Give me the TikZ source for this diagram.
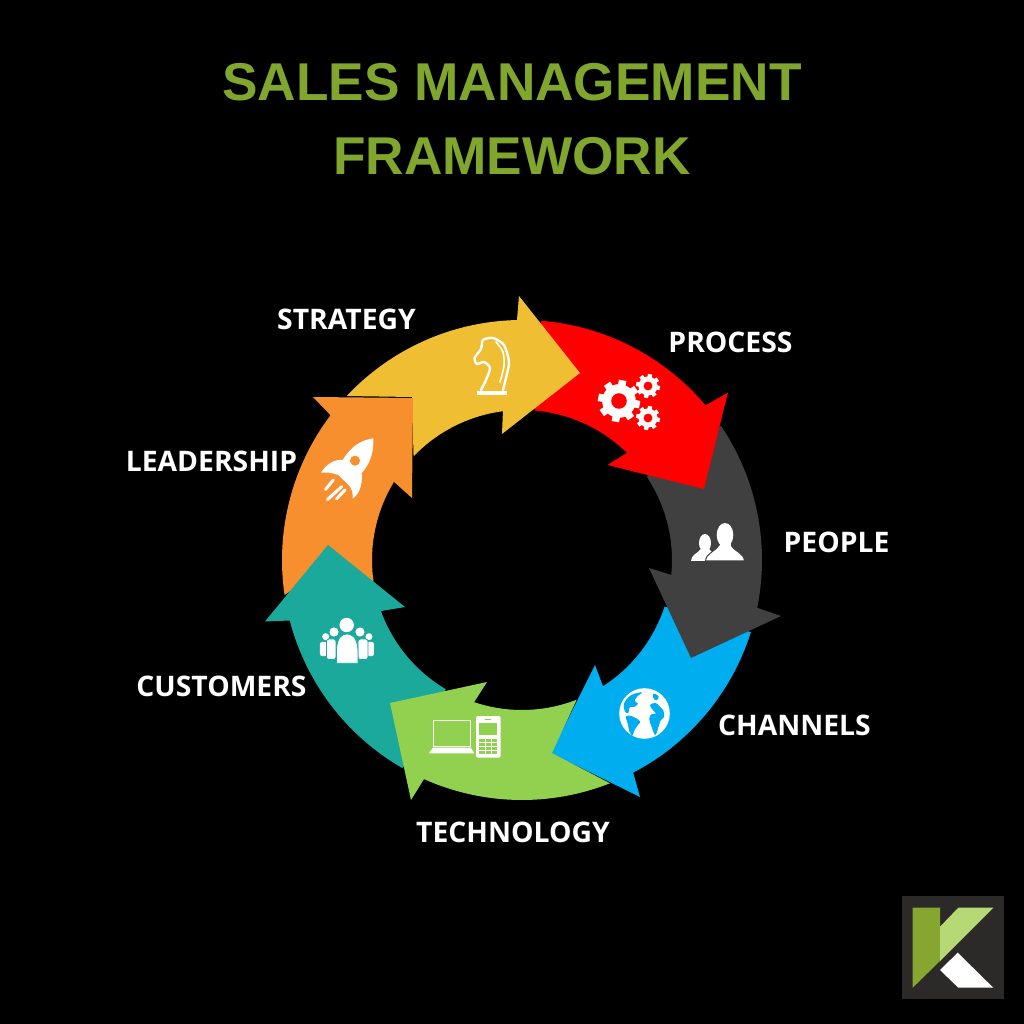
\documentclass[tikz,border=0pt]{standalone}
\usepackage{fontspec}
\usetikzlibrary{positioning}
\newfontfamily\titlefont{Liberation Sans}
\newfontfamily\labelfont{Open Sans}
\definecolor{titlegreen}{HTML}{80A62D}
\definecolor{stratcol}{HTML}{F0BE33}
\definecolor{leadcol}{HTML}{F78F2E}
\definecolor{custcol}{HTML}{1AA99A}
\definecolor{techcol}{HTML}{92D050}
\definecolor{chancol}{HTML}{00AEEF}
\definecolor{peoplecol}{HTML}{404040}
\definecolor{proccol}{HTML}{FF0000}
\definecolor{logodark}{HTML}{2B2A28}
\definecolor{logomid}{HTML}{86A62F}
\definecolor{logolight}{HTML}{B7D975}
\tikzstyle{ringlabel} = [text=white, font=\labelfont\bfseries\fontsize{28.3}{28.3}\selectfont, inner sep=0pt]
\tikzstyle{icon} = [fill=white, draw=none]
\tikzstyle{iconline} = [draw=white, line width=2.4pt, line cap=round, line join=round]
\newcommand{\gearicon}[4]{%
  \fill[white] (#1,#2) circle ({.8*#3});
  \foreach \a in {0,45,...,315}
    \draw[white, line width={.36*#3}] ([shift={(#1,#2)}]\a+10:{.6*#3}) -- ([shift={(#1,#2)}]\a+10:#3);
  \fill[#4] (#1,#2) circle ({.37*#3});
}

\begin{document}
\begin{tikzpicture}[x=1pt,y=1pt]
            \useasboundingbox (-522,-464) rectangle (502,560);
            \fill[black] (-522,-464) rectangle (502,560);
            %%%%% Ring, centred on the origin %%%%%
            \fill[chancol] (29,-193) -- (73,-105) -- (302.7:150) arc[start angle=302.7,end angle=341.9,radius=150] -- (178,-55) -- (342.5:240) arc[start angle=342.5,end angle=297.6,radius=240] -- (118,-237) -- cycle;
            \fill[peoplecol] (33.6:150) -- (158,120) -- (33.9:240) arc[start angle=33.9,end angle=-11.5,radius=240] -- (259,-56) -- (169,-98) -- (127,-8) -- (-5.7:150) arc[start angle=-5.7,end angle=33.6,radius=150] -- cycle;
            \fill[proccol] (8,190) -- (85.4:240) arc[start angle=85.4,end angle=40.1,radius=240] -- (206,167.5) -- (182,71) -- (85.5,95) -- (45.6:150) arc[start angle=45.6,end angle=85,radius=150] -- cycle;
            \fill[stratcol] (136.9:240) arc[start angle=136.9,end angle=91.2,radius=240] -- (-3,264) -- (58,187) -- (-20,126) -- (97.3:150) arc[start angle=97.3,end angle=136.3,radius=150] -- (-110,163) -- cycle;
            \fill[leadcol] (-209,163) -- (-109,162) -- (-110,62) -- (148.6:150) arc[start angle=148.6,end angle=188.4,radius=150] -- (-194,-5) -- (188.4:240) arc[start angle=188.4,end angle=142.9,radius=240] -- cycle;
            \fill[custcol] (-194,15) -- (-117,-47) -- (199.9:150) arc[start angle=199.9,end angle=239.4,radius=150] -- (-92,-175) -- (240.1:240) arc[start angle=240.1,end angle=194.6,radius=240] -- (-257,-61.5) -- cycle;
            \fill[techcol] (-132,-143) -- (-35,-122) -- (251.4:150) arc[start angle=251.4,end angle=291.4,radius=150] -- (30,-193) -- (291.5:240) arc[start angle=291.5,end angle=245.9,radius=240] -- (-111,-240) -- cycle;

            \begin{scope}[shift={(-522,560)},yscale=-1]
            %%%%% Title and labels %%%%%
            \node (title) [text=titlegreen, align=center, inner sep=0pt, font=\titlefont\bfseries\fontsize{53.2}{74}\selectfont] at (512,119) {SALES MANAGEMENT\\FRAMEWORK};
            \node (strategy) [ringlabel] at (346.5,319.5) {STRATEGY};
            \node (process) [ringlabel] at (730.5,342.5) {PROCESS};
            \node (people) [ringlabel] at (836.5,542.5) {PEOPLE};
            \node (channels) [ringlabel] at (794.5,725.5) {CHANNELS};
            \node (technology) [ringlabel] at (513,832.5) {TECHNOLOGY};
            \node (customers) [ringlabel] at (221.5,686.5) {CUSTOMERS};
            \node (leadership) [ringlabel] at (211.5,461.5) {LEADERSHIP};

            %%%%% Knight %%%%%
            \fill[white] (477,391) rectangle (507,395);
            \draw[iconline] plot[smooth, tension=.45] coordinates {(481,390) (486,380) (490,368) (484,362) (477,364) (474.5,358) (481,349) (483,340) (493,338) (504,345) (509,362) (506,378) (503,390)};
            \draw[iconline, line width=1.6pt] plot[smooth, tension=.45] coordinates {(496,342) (503,352) (504,366) (500,382)};
            %%%%% Gears %%%%%
            \gearicon{619}{401}{21}{proccol}
            \gearicon{648}{386}{12}{proccol}
            \gearicon{648}{418}{12}{proccol}
            %%%%% People %%%%%
            \fill[icon] (705,543) ellipse (6 and 9);
            \fill[icon] (691,561) .. controls (691,555) and (698,553) .. (701,549) -- (709,549) .. controls (712,553) and (716,553) .. (720,561) -- cycle;
            \fill[icon] (725,535) ellipse (8.3 and 12);
            \fill[icon, draw=peoplecol, line width=1pt] (705.5,561) .. controls (706,553) and (715,552) .. (719,545) -- (731,545) .. controls (735,552) and (744,553) .. (744.5,561) -- cycle;
            \fill[icon] (719.5,543) rectangle (730.5,548);
            %%%%% Globe %%%%%
            \fill[icon] (644.5,713.5) circle (25.3);
            \begin{scope}[shift={(614,683)},scale=.3333]
            \fill[chancol] plot[smooth cycle, tension=.6] coordinates {(30,62) (44,42) (62,32) (84,28) (70,40) (62,54) (72,62) (60,72) (48,72) (42,90) (32,84)};
            \fill[chancol] plot[smooth cycle, tension=.6] coordinates {(36,100) (55,100) (78,115) (72,126) (62,140) (55,158) (46,145) (42,125)};
            \fill[chancol] plot[smooth cycle, tension=.6] coordinates {(108,66) (125,60) (136,70) (148,82) (150,102) (140,112) (134,130) (124,156) (113,132) (106,108) (112,94) (126,92) (116,80)};
            \fill[chancol] plot[smooth cycle, tension=.6] coordinates {(118,32) (134,40) (128,52) (118,45)};
            \end{scope}
            %%%%% Laptop and phone %%%%%
            \draw[white, line width=1.3pt] (433.5,720.5) rectangle (470.5,746.5);
            \fill[icon] (433,747.5) -- (470.7,747.5) -- (474.3,753.3) -- (429,753.3) -- cycle;
            \fill[icon, rounded corners=2pt] (476,716) rectangle (500.7,757.7);
            \fill[techcol] (479.3,723.3) rectangle (497.3,735);
            \fill[techcol] (485,719) rectangle (491,720);
            \foreach \r in {0,1,2,3}
              \foreach \c in {0,1,2}
                \fill[techcol] ({479.3+6.2*\c},{739.3+3.9*\r}) rectangle ({484.7+6.2*\c},{742.3+3.9*\r});
            %%%%% Crowd %%%%%
            \fill[icon] (325.7,636.7) circle (3.5);
            \fill[icon] (369,636.7) circle (3.5);
            \fill[icon, rounded corners=2pt] (320,642) rectangle (327,656);
            \fill[icon, rounded corners=2pt] (367,642) rectangle (374,656);
            \fill[icon] (334,632) circle (4.6);
            \fill[icon] (360,632) circle (4.6);
            \fill[icon, draw=custcol, line width=.8pt, rounded corners=2.5pt] (326.5,639) rectangle (336,659.5);
            \fill[icon, draw=custcol, line width=.8pt, rounded corners=2.5pt] (358,639) rectangle (368,659.5);
            \fill[icon] (346.7,625) circle (7.2);
            \fill[icon, draw=custcol, line width=.8pt] (336.5,663.3) -- (336.5,650) .. controls (337,637) and (342,634) .. (347,634) .. controls (352,634) and (357,637) .. (358,650) -- (358,663.3) -- cycle;
            %%%%% Rocket %%%%%
            \fill[icon] (373.3,438.3) .. controls (362,440) and (352,445) .. (342.7,460) .. controls (335,459) and (326,464) .. (321,472.7) .. controls (327,472) and (333,473) .. (338.3,475) -- (350,486.7) .. controls (352,490) and (353,494) .. (352.7,498.3) .. controls (358,496) and (363,486) .. (361.7,473) .. controls (371,463) and (374,450) .. (373.3,438.3) -- cycle;
            \fill[leadcol] (355,460.7) circle (5);
            \draw[iconline, line width=3pt] (333.3,480) -- (325.5,489.5);
            \draw[iconline, line width=3pt] (341.7,486.7) -- (327.5,499.5);
            \draw[iconline, line width=3pt] (345,490) -- (336.5,499);
            %%%%% Logo %%%%%
            \fill[logodark] (901.7,896) rectangle (1004.3,999.3);
            \fill[logomid] (912.7,907.7) -- (940,907.7) -- (940,961) -- (912.7,987.7) -- cycle;
            \fill[logolight] (940,926.7) -- (958.3,907.7) -- (993.3,907.7) -- (940,961) -- cycle;
            \fill[white] (940,970) -- (957.7,952.7) -- (993.3,987.7) -- (958.3,987.7) -- cycle;
            \end{scope}
\end{tikzpicture}
\end{document}
